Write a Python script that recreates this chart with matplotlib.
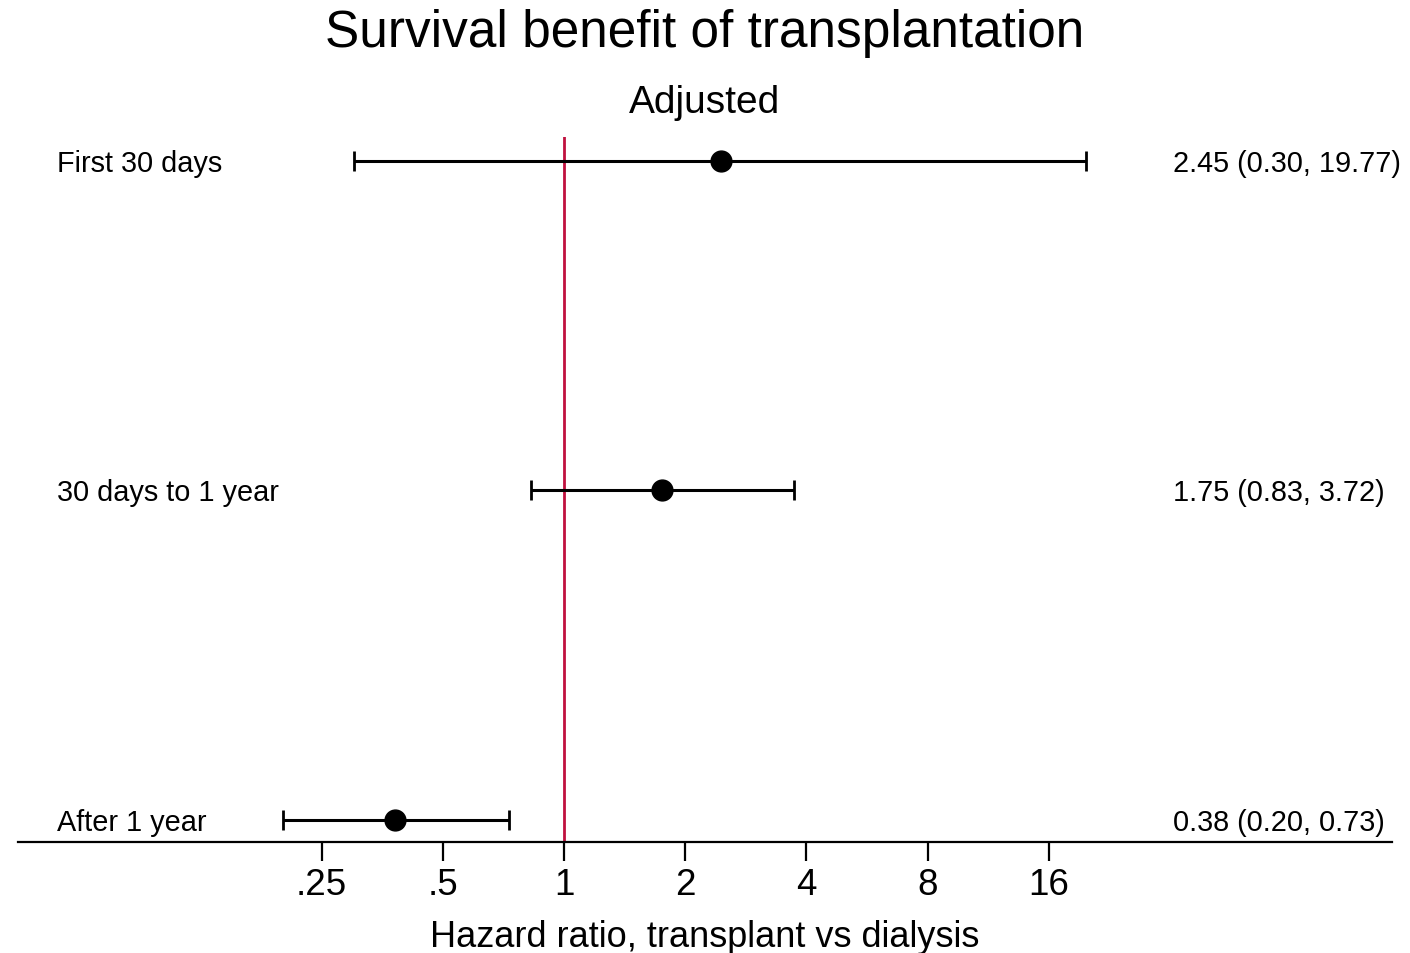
import matplotlib.pyplot as plt
import numpy as np

plt.rcParams['font.family'] = ['Liberation Sans', 'DejaVu Sans']

# hazard ratios with 95% CI
periods = ['First 30 days', '30 days to 1 year', 'After 1 year']
hr = np.array([2.45, 1.75, 0.38])
lo = np.array([0.30, 0.83, 0.20])
hi = np.array([19.77, 3.72, 0.73])
tick_vals = [0.25, 0.5, 1, 2, 4, 8, 16]
tick_labels = ['.25', '.5', '1', '2', '4', '8', '16']

fig = plt.figure(figsize=(14.1, 9.54), dpi=100)
ax = fig.add_axes([18 / 1410, 111 / 954, 1374 / 1410, 705 / 954])

ypos = np.arange(len(periods), 0, -1)

ax.axvline(1, color='#c0113f', lw=2, zorder=1)
ax.errorbar(hr, ypos, xerr=[hr - lo, hi - hr], fmt='o', color='black',
            ms=15, elinewidth=2.2, capsize=7, capthick=2, zorder=3)

for y, name, h, l, u in zip(ypos, periods, hr, lo, hi):
    ax.text(0.0284, y - 0.005, name, transform=ax.get_yaxis_transform(),
            va='center', ha='left', fontsize=20.8)
    ax.text(0.8406, y - 0.005, f'{h:.2f} ({l:.2f}, {u:.2f})',
            transform=ax.get_yaxis_transform(),
            va='center', ha='left', fontsize=20.8)

ax.set_xscale('log', base=2)
ax.set_xlim(2 ** -4.506, 2 ** 6.833)
ax.set_ylim(0.933, 3.073)
ax.set_xticks(tick_vals)
ax.set_xticklabels(tick_labels, fontsize=26.5)
ax.minorticks_off()
ax.set_yticks([])
ax.tick_params(axis='x', length=14, width=1.6, pad=4)
for s in ['top', 'left', 'right']:
    ax.spines[s].set_visible(False)
ax.spines['bottom'].set_linewidth(1.6)

ax.set_xlabel('Hazard ratio, transplant vs dialysis', fontsize=26, labelpad=12)
fig.text(0.5, 1 - 33 / 954, 'Survival benefit of transplantation',
         ha='center', va='center', fontsize=37)
fig.text(0.5, 1 - 103 / 954, 'Adjusted', ha='center', va='center', fontsize=28)

fig.savefig('out.png', dpi=100)
